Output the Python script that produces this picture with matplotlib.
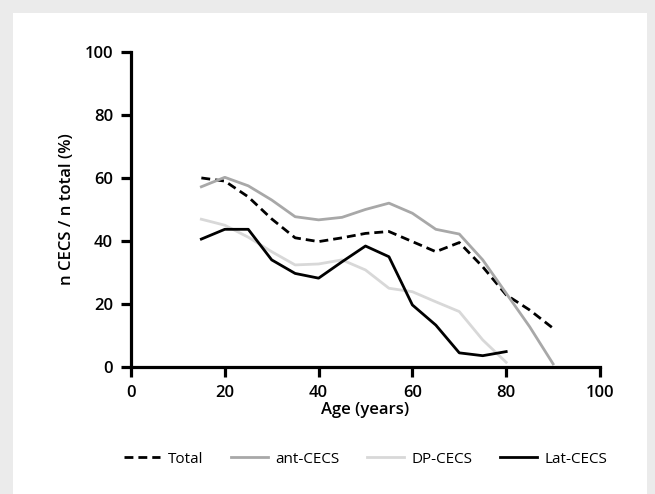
import numpy as np
import matplotlib
matplotlib.use("Agg")
import matplotlib.pyplot as plt
from matplotlib.patches import Rectangle

ages = [15, 20, 25, 30, 35, 40, 45, 50, 55, 60, 65, 70, 75, 80, 85, 90]
total = [60.0, 59.0, 54.0, 47.0, 41.0, 39.8, 41.0, 42.4, 43.0, 39.8, 36.6, 39.5, 31.8, 22.9, 18.1, 12.3]
ant_cecs = [57.2, 60.2, 57.5, 53.0, 47.7, 46.7, 47.5, 50.0, 52.0, 48.8, 43.7, 42.2, 34.0, 23.4, 12.8, 1.0]
dp_ages = ages[:14]
dp_cecs = [46.9, 45.0, 41.2, 36.6, 32.4, 32.7, 34.0, 30.8, 25.0, 23.9, 20.7, 17.6, 8.6, 1.5]
lat_ages = ages[:14]
lat_cecs = [40.6, 43.7, 43.7, 34.0, 29.7, 28.2, 33.4, 38.4, 35.0, 19.7, 13.3, 4.5, 3.6, 4.9]

x_ticks = [0, 20, 40, 60, 80, 100]
y_ticks = [0, 20, 40, 60, 80, 100]

plt.rcParams["font.family"] = ["Open Sans", "DejaVu Sans"]

fig = plt.figure(figsize=(6.55, 4.94), dpi=100, facecolor="#ebebeb")
# white panel inside the grey frame
fig.add_artist(Rectangle((13 / 655, 0), 634 / 655, 1 - 13 / 494,
                         transform=fig.transFigure, facecolor="white",
                         edgecolor="none", zorder=-5))
ax = fig.add_axes([0.2, 0.257, 0.716, 0.638])
ax.set_facecolor("none")

lw = 2.0
ax.plot(ages, total, color="black", lw=lw, dashes=(3.2, 1.8), label="Total")
ax.plot(ages, ant_cecs, color="#a8a8a8", lw=lw, label="ant-CECS")
ax.plot(dp_ages, dp_cecs, color="#d8d8d8", lw=lw, label="DP-CECS")
ax.plot(lat_ages, lat_cecs, color="black", lw=lw, label="Lat-CECS")

ax.set_xlim(0, 100)
ax.set_ylim(0, 100)
ax.set_xticks(x_ticks)
ax.set_yticks(y_ticks)
for s in ["top", "right"]:
    ax.spines[s].set_visible(False)
for s in ["left", "bottom"]:
    ax.spines[s].set_linewidth(2.3)
ax.tick_params(width=2.3, length=7, labelsize=12, pad=6)
for lab in ax.get_xticklabels() + ax.get_yticklabels():
    lab.set_fontweight("semibold")
ax.set_xlabel("Age (years)", fontsize=12, fontweight="semibold", labelpad=1)
ax.set_ylabel("n CECS / n total (%)", fontsize=12, fontweight="semibold", labelpad=7)

ax.legend(loc="upper center", bbox_to_anchor=(0.5, -0.225), ncol=4, frameon=False,
          fontsize=11, handlelength=2.4, columnspacing=1.8, handletextpad=0.5)

fig.savefig("out.png", dpi=100, facecolor=fig.get_facecolor())
